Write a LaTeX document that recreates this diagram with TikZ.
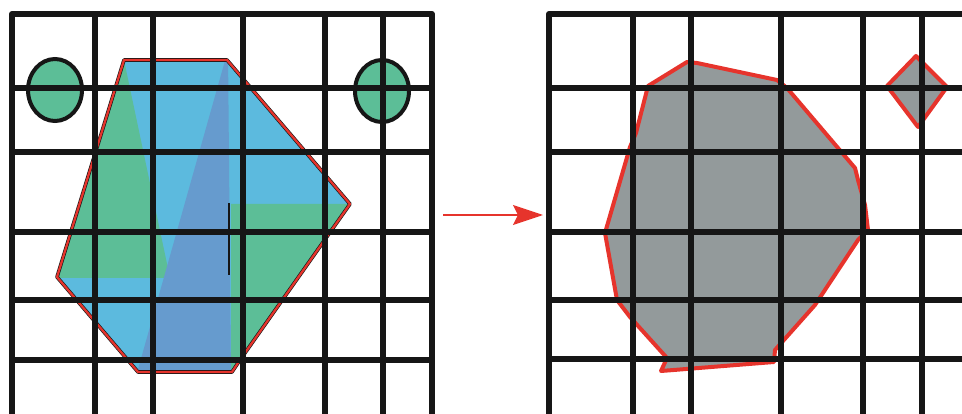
\documentclass[tikz,border=0pt]{standalone}
\usetikzlibrary{arrows.meta}
\definecolor{gridk}{RGB}{22,22,22}
\definecolor{fgreen}{RGB}{92,190,151}
\definecolor{fblue}{RGB}{92,186,222}
\definecolor{fdblue}{RGB}{102,155,206}
\definecolor{fgray}{RGB}{147,154,155}
\definecolor{fred}{RGB}{230,52,44}
\tikzset{
  gridline/.style={draw=gridk, line width=5.8pt, line join=round, line cap=butt},
  blob/.style={draw=gridk, line width=4pt, fill=fgreen},
  redrim/.style={draw=fred, line width=4pt, line join=round, line cap=round},
  arrowline/.style={draw=fred, line width=1.6pt, -{Stealth[length=30pt,width=20pt,inset=5pt]}},
}
\begin{document}
\begin{tikzpicture}[x=1pt,y=-1pt]
\useasboundingbox (0,0) rectangle (962,414);
% ---------- left panel ----------
\coordinate (h1) at (124,60);
\coordinate (h2) at (227,60);
\coordinate (h3) at (350,204);
\coordinate (h4) at (240,360);
\coordinate (h5) at (232,372);
\coordinate (h6) at (138,372);
\coordinate (h7) at (57,277);
\begin{scope}
  \clip (h1)--(h2)--(h3)--(h4)--(h5)--(h6)--(h7)--cycle;
  \fill[fblue] (0,0) rectangle (440,414);
  \fill[fgreen] (h1) -- (170,278) -- (40,278) -- (40,40) -- cycle;
  \fill[fgreen] (231,204) -- (360,204) -- (240,360) -- (231,380) -- cycle;
  \fill[fdblue] (228,50) -- (231,380) -- (135,380) -- cycle;
\end{scope}
\draw[gridk, line width=3.6pt, line join=round] (h1)--(h2)--(h3)--(h4)--(h5)--(h6)--(h7)--cycle;
\draw[fred, line width=2.3pt, line join=round] (h1)--(h2)--(h3)--(h4)--(h5)--(h6)--(h7)--cycle;
\draw[gridk, line width=1.5pt] (229,203) -- (229,275);
\draw[blob] (55,90) ellipse [x radius=27, y radius=31];
\draw[blob] (382,91) ellipse [x radius=27, y radius=31];
% grid
\draw[gridline] (12,414) -- (12,14) -- (432,14) -- (432,414);
\foreach \x in {95,153,243,325,383} \draw[gridline] (\x,14) -- (\x,414);
\foreach \y in {88,152,232,300,360} \draw[gridline] (12,\y) -- (432,\y);
% ---------- arrow ----------
\coordinate (arrS) at (443,215);
\coordinate (arrE) at (543,215);
\draw[arrowline] (arrS) -- (arrE);
% ---------- right panel ----------
\filldraw[fill=fgray, redrim] (687,62) -- (697,63) -- (777,80) -- (787,88) -- (855,168) -- (858,180) -- (865,205) -- (868,230) -- (858,240) -- (815,305) -- (775,350) -- (774,362) -- (661,371) -- (667,358) -- (630,317) -- (617,300) -- (605,233) -- (630,147) -- (636,133) -- (648,86) -- cycle;
\filldraw[fill=fgray, redrim] (916,56) -- (947,87) -- (918,127) -- (887,86) -- cycle;
\draw[gridline] (549,414) -- (549,14) -- (962,14);
\foreach \x in {633,691,781,863,922} \draw[gridline] (\x,14) -- (\x,414);
\foreach \y in {88,152,232,300,359} \draw[gridline] (549,\y) -- (962,\y);
\end{tikzpicture}
\end{document}
